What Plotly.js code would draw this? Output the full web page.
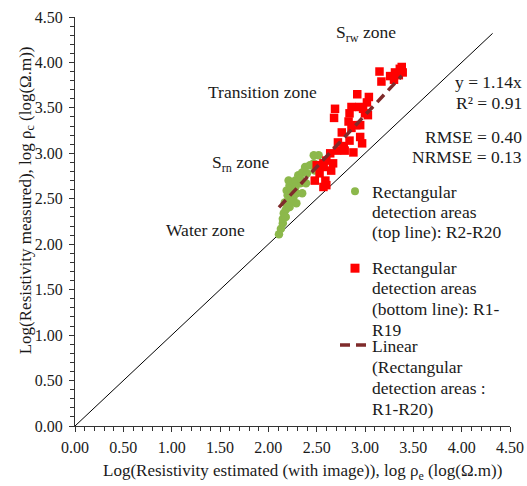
<!DOCTYPE html>
<html>
<head>
<meta charset="utf-8">
<script src="https://cdn.plot.ly/plotly-3.0.1.min.js"></script>
<style>
  html, body { margin: 0; padding: 0; background: #fff; }
  #chart { width: 527px; height: 486px; }
</style>
</head>
<body>
<div id="chart"></div>
<script>
// Top line detection areas (R2-R20): estimated vs measured log resistivity
const topX = [2.11, 2.13, 2.15, 2.15, 2.16, 2.18, 2.21, 2.17, 2.22, 2.26, 2.20, 2.19, 2.24, 2.29, 2.26,
              2.22, 2.21, 2.28, 2.33, 2.31, 2.35, 2.40, 2.38, 2.43, 2.48, 2.47, 2.47, 2.52, 2.33, 2.39,
              2.28, 2.24, 2.18, 2.29, 2.35, 2.22];
const topY = [2.11, 2.17, 2.23, 2.28, 2.34, 2.38, 2.43, 2.46, 2.48, 2.52, 2.54, 2.59, 2.57, 2.56, 2.63,
              2.65, 2.70, 2.70, 2.67, 2.76, 2.79, 2.78, 2.85, 2.87, 2.81, 2.89, 2.98, 2.98, 2.72, 2.67,
              2.63, 2.47, 2.30, 2.45, 2.56, 2.41];

// Bottom line detection areas (R1-R19)
const bottomX = [3.15, 3.17, 3.26, 3.31, 3.38, 3.35, 3.30, 3.39, 3.36,
                 2.92, 3.04, 3.02, 2.94, 2.86, 2.98, 3.03, 2.69, 2.68, 2.83, 2.91, 2.76,
                 2.84, 3.00, 2.95, 2.84, 2.95, 2.97, 2.72, 2.71, 2.79, 2.88, 2.64, 2.60,
                 2.67, 2.57, 2.65, 2.53, 2.48, 2.59, 2.57, 2.50, 2.57, 2.60, 2.78, 2.86];
const bottomY = [3.90, 3.79, 3.85, 3.89, 3.95, 3.86, 3.81, 3.89, 3.93,
                 3.65, 3.62, 3.56, 3.51, 3.51, 3.49, 3.42, 3.49, 3.39, 3.35, 3.31, 3.23,
                 3.44, 3.44, 3.31, 3.14, 3.18, 3.11, 3.12, 3.03, 3.03, 3.01, 3.00, 2.92,
                 2.89, 2.85, 2.81, 2.78, 2.70, 2.70, 2.63, 2.87, 2.89, 2.65, 3.08, 3.28];

// Linear fit through the origin, y = 1.14x, over the range of the data
const slope = 1.14;
const fitX = [2.11, 3.38];
const fitY = fitX.map(v => slope * v);

// 1:1 reference line
const unityX = [0, 4.32];
const unityY = [0, 4.32];

// Axis ticks
const tickVals = [0, 0.5, 1, 1.5, 2, 2.5, 3, 3.5, 4, 4.5];
const tickText = ['0.00', '0.50', '1.00', '1.50', '2.00', '2.50', '3.00', '3.50', '4.00', '4.50'];

// Zone labels, regression statistics and legend entries
const zoneLabels = ['Water zone', 'S<sub>rn</sub> zone', 'Transition zone', 'S<sub>rw</sub> zone'];
const statLabels = ['y = 1.14x', 'R² = 0.91', 'RMSE = 0.40', 'NRMSE = 0.13'];
const legendTop = ['Rectangular', 'detection areas', '(top line): R2-R20'];
const legendBottom = ['Rectangular', 'detection areas', '(bottom line): R1-', 'R19'];
const legendFit = ['Linear', '(Rectangular', 'detection areas :', 'R1-R20)'];

// ---- page geometry (pixels) ----
const W = 527, H = 486;
const L = 75, R = 510, T = 16.5, B = 426;
const px = x => (x - L) / (R - L);       // pixel x -> paper
const py = y => (B - y) / (B - T);       // pixel y -> paper

const FONT = 'Liberation Serif, Times New Roman, serif';
const TXT = '#1a1a1a';
const GREEN = '#8cb84b';
const RED = '#ff0000';
const FIT = '#7f2b2b';
const LABEL_SIZE = 17.5;

const traces = [
  { x: unityX, y: unityY, mode: 'lines', line: { color: '#000', width: 1 }, hoverinfo: 'skip' },
  { x: topX, y: topY, mode: 'markers', marker: { symbol: 'circle', size: 8.5, color: GREEN } },
  { x: bottomX, y: bottomY, mode: 'markers', marker: { symbol: 'square', size: 8.5, color: RED } },
  { x: fitX, y: fitY, mode: 'lines', line: { color: FIT, width: 3.5, dash: '10px,6px' } }
];

const ann = [];
function text(t, x, y, xanchor, size) {
  ann.push({ text: t, xref: 'paper', yref: 'paper', x: px(x), y: py(y), xanchor: xanchor,
             yanchor: 'middle', showarrow: false, font: { family: FONT, size: size || LABEL_SIZE, color: TXT } });
}

// zone labels
text(zoneLabels[0], 205, 230, 'center');
text(zoneLabels[1], 241, 163, 'center');
text(zoneLabels[2], 262, 92, 'center');
text(zoneLabels[3], 366, 33, 'center');

// statistics, right aligned
text(statLabels[0], 524, 82, 'right');
text(statLabels[1], 524, 103, 'right');
text(statLabels[2], 524, 137, 'right');
text(statLabels[3], 524, 157, 'right');

// legend text
[192, 212, 232].forEach((y, i) => text(legendTop[i], 370, y, 'left'));
[268, 288, 309, 330].forEach((y, i) => text(legendBottom[i], 370, y, 'left'));
[346, 367, 388, 409].forEach((y, i) => text(legendFit[i], 370, y, 'left'));

// axis titles
ann.push({ text: 'Log(Resistivity estimated (with image)), log ρ<sub>e</sub> (log(Ω.m))',
           xref: 'paper', yref: 'paper', x: px(302.5), y: py(472), xanchor: 'center', yanchor: 'middle',
           showarrow: false, font: { family: FONT, size: 17, color: TXT } });
ann.push({ text: 'Log(Resistivity measured), log ρ<sub>c</sub> (log(Ω.m))',
           xref: 'paper', yref: 'paper', x: px(27), y: py(200), xanchor: 'center', yanchor: 'middle',
           textangle: -90, showarrow: false, font: { family: FONT, size: 17, color: TXT } });

// legend symbols
const shapes = [
  { type: 'circle', xref: 'paper', yref: 'paper', x0: px(351), x1: px(359), y0: py(195), y1: py(187),
    fillcolor: GREEN, line: { width: 0 } },
  { type: 'rect', xref: 'paper', yref: 'paper', x0: px(350.5), x1: px(359.5), y0: py(272.5), y1: py(263.5),
    fillcolor: RED, line: { width: 0 } },
  { type: 'line', xref: 'paper', yref: 'paper', x0: px(340), x1: px(367), y0: py(345), y1: py(345),
    line: { color: FIT, width: 3.5, dash: '10px,6px' } }
];

const axisCommon = {
  range: [0, 4.5], autorange: false, showgrid: false, zeroline: false,
  showline: true, linecolor: '#333', linewidth: 1,
  tickmode: 'array', tickvals: tickVals, ticktext: tickText,
  ticks: 'outside', ticklen: 5, tickwidth: 1, tickcolor: '#333',
  tickfont: { family: FONT, size: 16, color: TXT },
  minor: { dtick: 0.1, tick0: 0, ticks: 'outside', ticklen: 4, tickwidth: 1, tickcolor: '#333', showgrid: false }
};

const layout = {
  width: W, height: H,
  margin: { l: L, r: W - R, t: T, b: H - B, pad: 0 },
  paper_bgcolor: '#fff', plot_bgcolor: '#fff',
  showlegend: false,
  xaxis: Object.assign({}, axisCommon, { ticklabelstandoff: 2 }),
  yaxis: Object.assign({}, axisCommon, { ticklabelstandoff: 3 }),
  annotations: ann,
  shapes: shapes
};

Plotly.newPlot('chart', traces, layout, { displayModeBar: false, staticPlot: true });
</script>
</body>
</html>
